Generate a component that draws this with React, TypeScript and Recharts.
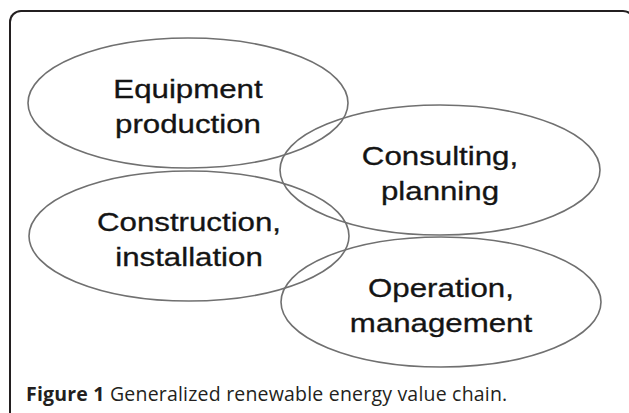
import React from "react";
import { ScatterChart, Scatter, XAxis, YAxis } from "recharts";

// value-chain stages, each drawn as an ellipse holding a two-line label
const stageNames = ["Equipment production", "Consulting, planning", "Construction, installation", "Operation, management"];
const labelTop = ["Equipment", "Consulting,", "Construction,", "Operation,"];
const labelBottom = ["production", "planning", "installation", "management"];
const centerX = [188, 440, 189, 441];
const centerY = [103, 170, 236, 302];

const captionBold = "Figure 1";
const captionText = "Generalized renewable energy value chain.";

const W = 629;
const H = 413;
const RX = 160;
const RY = 65;

const data = stageNames.map((name, i) => ({
  name,
  x: centerX[i],
  y: centerY[i],
  top: labelTop[i],
  bottom: labelBottom[i],
}));

const labelStyle = {
  fontFamily: "'Liberation Sans', Arial, sans-serif",
  fontSize: 25,
  fill: "#141414",
  stroke: "#141414",
  strokeWidth: 0.3,
};

const StageShape = (props: any) => {
  const { cx, cy, payload } = props;
  if (cx == null || cy == null) return null;
  return (
    <g>
      <ellipse cx={cx} cy={cy} rx={RX} ry={RY} fill="none" stroke="#707070" strokeWidth={1.6} />
      <text transform={`translate(${cx},${cy - 5}) scale(1.25,1)`} textAnchor="middle" {...labelStyle}>
        {payload.top}
      </text>
      <text transform={`translate(${cx},${cy + 30}) scale(1.25,1)`} textAnchor="middle" {...labelStyle}>
        {payload.bottom}
      </text>
    </g>
  );
};

export default function App() {
  return (
    <div style={{ position: "fixed", left: 0, top: 0, width: W, height: H, background: "#fff", overflow: "hidden" }}>
      <div
        style={{
          position: "absolute",
          left: 9,
          top: 10,
          width: 626,
          height: 420,
          border: "2px solid #231f20",
          borderBottom: "none",
          borderRadius: "12px 12px 0 0",
          boxSizing: "border-box",
        }}
      />
      <div style={{ position: "absolute", left: 0, top: 0 }}>
        <ScatterChart width={W} height={H} margin={{ top: 0, right: 0, bottom: 0, left: 0 }}>
          <XAxis type="number" dataKey="x" domain={[0, W]} hide />
          <YAxis type="number" dataKey="y" domain={[0, H]} reversed hide />
          <Scatter data={data} shape={StageShape} isAnimationActive={false} />
        </ScatterChart>
      </div>
      <svg width={W} height={H} style={{ position: "absolute", left: 0, top: 0 }}>
        <text x={26} y={401} fontFamily="'Open Sans', sans-serif" fontSize={19.5} letterSpacing={0.2} fill="#231f20">
          <tspan fontWeight={700}>{captionBold}</tspan>
          <tspan> {captionText}</tspan>
        </text>
      </svg>
    </div>
  );
}
